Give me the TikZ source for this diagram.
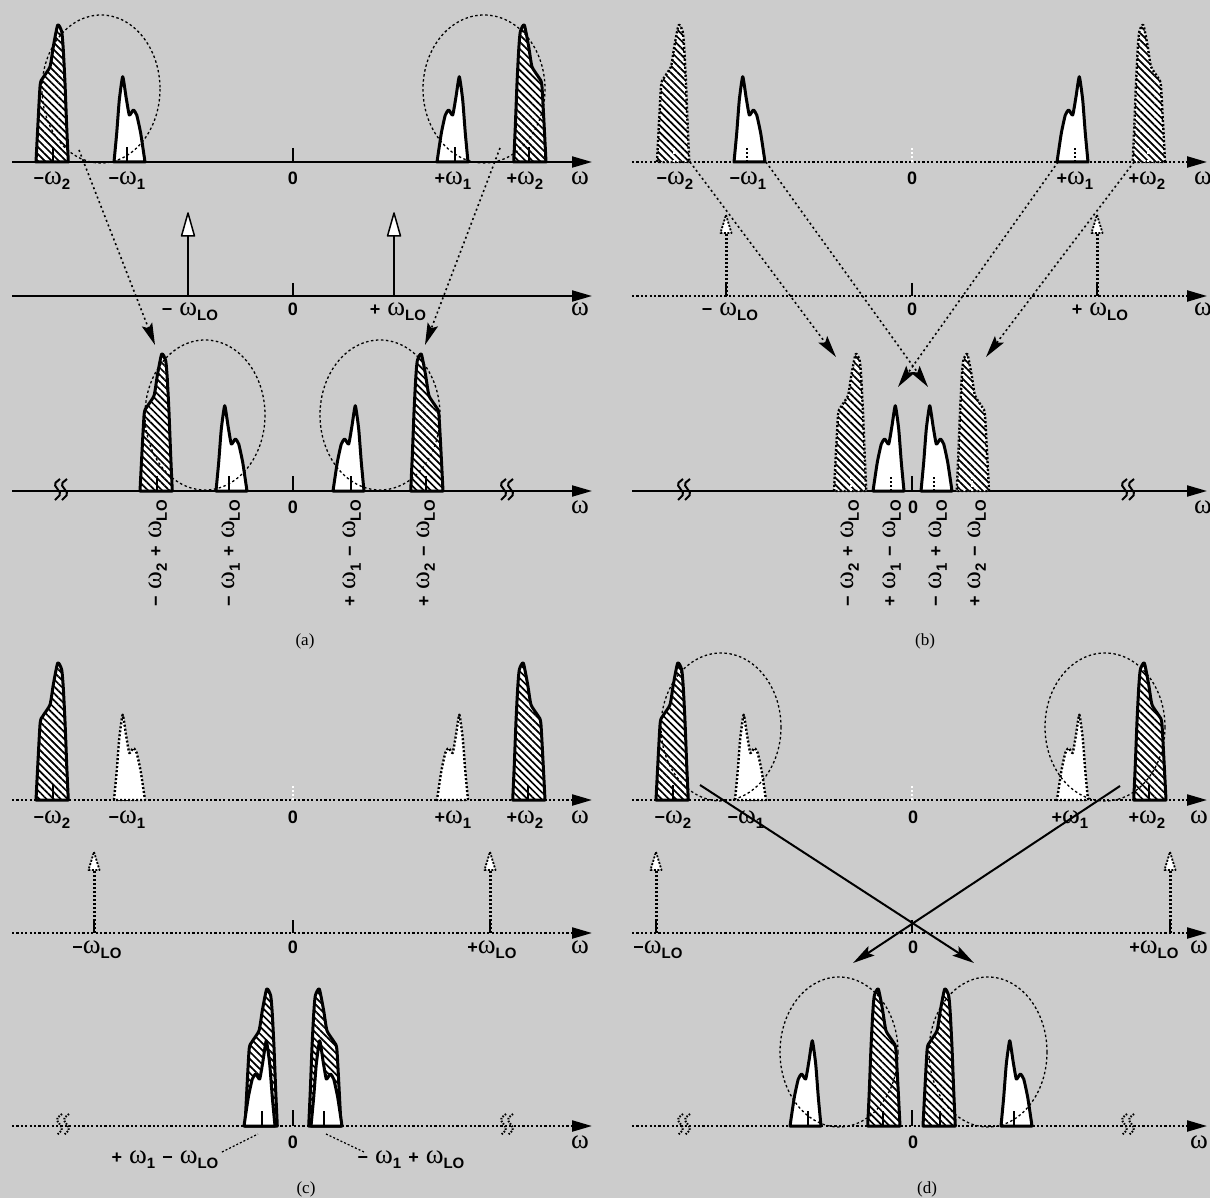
\documentclass[tikz,border=0pt]{standalone}
\usepackage{fontspec}
\setmainfont{Liberation Serif}
\setsansfont{Liberation Sans}
\newfontfamily\omfont{Liberation Serif}
\usetikzlibrary{arrows.meta,patterns.meta}
\definecolor{bgc}{RGB}{204,204,204}
\newcommand\om{{\omfont\mdseries\fontsize{27}{27}\selectfont ω}}
\newcommand\sbs[1]{\raisebox{-5pt}{\fontsize{15}{15}\selectfont #1}}
\newcommand\gap{\hspace{7pt}}
% band outlines, relative to the band centre on the axis (y downwards)
\newcommand\shA{plot[smooth,tension=0.35] coordinates {(-17,0) (-13,-75) (-10.3,-83.7) (-3,-95.3) (0.3,-115.3) (4.7,-137) (8.7,-130.3) (10.3,-112) (12,-78.7) (13.7,-35.3) (15.3,0)} -- cycle}
\newcommand\shAm{plot[smooth,tension=0.35] coordinates {(17,0) (13,-75) (10.3,-83.7) (3,-95.3) (-0.3,-115.3) (-4.7,-137) (-8.7,-130.3) (-10.3,-112) (-12,-78.7) (-13.7,-35.3) (-15.3,0)} -- cycle}
\newcommand\shB{plot[smooth,tension=0.3] coordinates {(-13,0) (-10.3,-28.7) (-7.7,-62) (-4.3,-85.3) (-1,-65.3) (2.3,-47) (6.3,-52) (9.7,-47) (13.7,-28.7) (18,0)} -- cycle}
\newcommand\shBm{plot[smooth,tension=0.3] coordinates {(13,0) (10.3,-28.7) (7.7,-62) (4.3,-85.3) (1,-65.3) (-2.3,-47) (-6.3,-52) (-9.7,-47) (-13.7,-28.7) (-18,0)} -- cycle}
% #1 shape, #2 x, #3 y, #4 fill style, #5 outline style, #6 tick style
\newcommand\band[6]{\begin{scope}[shift={(#2,#3)}]
  \fill[#4] \csname sh#1\endcsname;
  \draw[#5] \csname sh#1\endcsname;
  \draw[#6] (0,0) -- (0,-15);
\end{scope}}
\newcommand\loS[3]{%
  \draw[line width=2.6pt] (#1,#2) -- (#1,#3+22);
  \draw[line width=1.5pt, fill=white, line join=round] (#1,#3) -- (#1+6.5,#3+23) -- (#1-6.5,#3+23) -- cycle;}
\newcommand\loD[3]{%
  \draw[line width=3pt, dash pattern=on 2pt off 2pt] (#1,#2) -- (#1,#3+18);
  \draw[line width=1.5pt] (#1,#2) -- (#1,#2-12);
  \draw[line width=1.8pt, dash pattern=on 2pt off 1.5pt, fill=white, line join=round] (#1,#3) -- (#1+5.5,#3+18) -- (#1-5.5,#3+18) -- cycle;}
\newcommand\brk[3]{\foreach \dx in {0,7} {\draw[#3] (#1+\dx+3,#2-12) -- (#1+\dx-3,#2-7) -- (#1+\dx+4,#2+3) -- (#1+\dx-2,#2+9);}}
\begin{document}
\begin{tikzpicture}[x=1pt,y=-1pt,
 lbl/.style={font=\sffamily\bfseries\fontsize{18}{18}\selectfont, anchor=base, inner sep=0pt},
 rlbl/.style={font=\sffamily\bfseries\fontsize{18}{18}\selectfont, rotate=90, anchor=east, inner sep=0pt},
 captxt/.style={font=\fontsize{17}{17}\selectfont, inner sep=0pt},
 axS/.style={line width=2pt, -{Triangle[length=20pt,width=11pt]}},
 axD/.style={line width=2.2pt, dash pattern=on 2.2pt off 2.2pt, -{Triangle[length=20pt,width=11pt]}},
 sb/.style={line width=3pt, line join=round},
 db/.style={line width=2.4pt, dash pattern=on 2pt off 2pt, line join=round},
 hatch/.style={preaction={fill=white}, pattern={Lines[angle=-45,distance=5pt,line width=1.7pt]}},
 wf/.style={fill=white},
 tkS/.style={line width=1.3pt},
 tkK/.style={line width=1.3pt, dash pattern=on 2pt off 2pt},
 tkD/.style={line width=1.3pt, white, dash pattern=on 2pt off 2pt},
 ell/.style={line width=1.3pt, dash pattern=on 2.5pt off 2.5pt},
 darr/.style={line width=1.6pt, dash pattern=on 2pt off 3pt, -{Stealth[length=22pt,width=11pt,inset=4pt]}},
 sarr/.style={line width=2pt, -{Stealth[length=22pt,width=11pt,inset=4pt]}},
 lead/.style={line width=1.2pt, dash pattern=on 2pt off 2pt},
 brkS/.style={line width=2pt, rounded corners=2pt},
 brkD/.style={line width=2pt, dash pattern=on 1.5pt off 1.5pt, rounded corners=2pt},
]
\fill[bgc] (0,0) rectangle (1210,1198);
\useasboundingbox (0,0) rectangle (1210,1198);

%%%%%%%%%%%%%%%% (a)
\draw[axS] (12,162) -- (592,162);
\draw[tkS] (293,148) -- (293,162);
\band{A}{53}{162}{hatch}{sb}{tkS}
\band{B}{127}{162}{wf}{sb}{tkS}
\band{Bm}{455}{162}{wf}{sb}{tkS}
\band{Am}{529}{162}{hatch}{sb}{tkS}
\node[lbl] (a1) at (52,185) {−\om\sbs{2}};
\node[lbl] (a2) at (127,185) {−\om\sbs{1}};
\node[lbl] (a3) at (293,185) {0};
\node[lbl] (a4) at (453,185) {+\om\sbs{1}};
\node[lbl] (a5) at (525,185) {+\om\sbs{2}};
\node[lbl] (a6) at (580,185) {\om};

\draw[axS] (12,296) -- (592,296);
\draw[tkS] (293,283) -- (293,296);
\loS{188}{296}{213}
\loS{394}{296}{213}
\node[lbl] (a7) at (190,316) {−\gap\om\sbs{LO}};
\node[lbl] (a8) at (293,316) {0};
\node[lbl] (a9) at (398,316) {+\gap\om\sbs{LO}};
\node[lbl] (a10) at (580,316) {\om};

\draw[axS] (12,491) -- (592,491);
\brk{57}{491}{brkS}
\brk{503}{491}{brkS}
\draw[tkS] (293,476) -- (293,491);
\band{A}{157}{491}{hatch}{sb}{tkS}
\band{B}{229}{491}{wf}{sb}{tkS}
\band{Bm}{351}{491}{wf}{sb}{tkS}
\band{Am}{426}{491}{hatch}{sb}{tkS}
\node[lbl] (a11) at (293,513) {0};
\node[lbl] (a12) at (580,513) {\om};
\node[rlbl] (a13) at (158,500) {−\gap\om\sbs{2}\gap+\gap\om\sbs{LO}};
\node[rlbl] (a14) at (231,500) {−\gap\om\sbs{1}\gap+\gap\om\sbs{LO}};
\node[rlbl] (a15) at (352,500) {+\gap\om\sbs{1}\gap−\gap\om\sbs{LO}};
\node[rlbl] (a16) at (426,500) {+\gap\om\sbs{2}\gap−\gap\om\sbs{LO}};

\draw[ell] (101,89) ellipse [x radius=59, y radius=74];
\draw[ell] (484,89) ellipse [x radius=61, y radius=74];
\draw[ell] (205,415) ellipse [x radius=60, y radius=75];
\draw[ell] (380,415) ellipse [x radius=60, y radius=75];
\coordinate (as1) at (79,150); \coordinate (ae1) at (155,345);
\coordinate (as2) at (500,148); \coordinate (ae2) at (425,345);
\draw[darr] (as1) -- (ae1);
\draw[darr] (as2) -- (ae2);
\node[captxt] (capa) at (305,641) {(a)};

%%%%%%%%%%%%%%%% (b)
\draw[axD] (632,162) -- (1207,162);
\draw[tkD] (912,148) -- (912,162);
\band{A}{674}{162}{hatch}{db}{tkD}
\band{B}{747}{162}{wf}{sb}{tkK}
\band{Bm}{1075}{162}{wf}{sb}{tkK}
\band{Am}{1148}{162}{hatch}{db}{tkD}
\node[lbl] (b1) at (675,185) {−\om\sbs{2}};
\node[lbl] (b2) at (748,185) {−\om\sbs{1}};
\node[lbl] (b3) at (912,185) {0};
\node[lbl] (b4) at (1075,185) {+\om\sbs{1}};
\node[lbl] (b5) at (1147,185) {+\om\sbs{2}};
\node[lbl] (b6) at (1203,185) {\om};

\draw[axD] (632,296) -- (1207,296);
\draw[tkS] (912,283) -- (912,296);
\loD{726}{296}{215}
\loD{1097}{296}{215}
\node[lbl] (b7) at (730,316) {−\gap\om\sbs{LO}};
\node[lbl] (b8) at (912,316) {0};
\node[lbl] (b9) at (1100,316) {+\gap\om\sbs{LO}};
\node[lbl] (b10) at (1203,316) {\om};

\draw[axS] (632,491) -- (1207,491);
\brk{680}{491}{brkS}
\brk{1124}{491}{brkS}
\draw[tkS] (912,476) -- (912,491);
\band{A}{851}{491}{hatch}{db}{tkD}
\band{Bm}{891}{491}{wf}{sb}{tkK}
\band{B}{934}{491}{wf}{sb}{tkK}
\band{Am}{972}{491}{hatch}{db}{tkD}
\node[lbl] (b11) at (913,513) {0};
\node[lbl] (b12) at (1203,513) {\om};
\node[rlbl] (b13) at (850,500) {−\gap\om\sbs{2}\gap+\gap\om\sbs{LO}};
\node[rlbl] (b14) at (892,500) {+\gap\om\sbs{1}\gap−\gap\om\sbs{LO}};
\node[rlbl] (b15) at (938,500) {−\gap\om\sbs{1}\gap+\gap\om\sbs{LO}};
\node[rlbl] (b16) at (977,500) {+\gap\om\sbs{2}\gap−\gap\om\sbs{LO}};

\coordinate (bs1) at (690,162); \coordinate (be1) at (836,357);
\coordinate (bs2) at (766,162); \coordinate (be2) at (928,387);
\coordinate (bs3) at (1058,162); \coordinate (be3) at (898,387);
\coordinate (bs4) at (1134,162); \coordinate (be4) at (986,357);
\draw[darr] (bs1) -- (be1);
\draw[darr] (bs2) -- (be2);
\draw[darr] (bs3) -- (be3);
\draw[darr] (bs4) -- (be4);
\node[captxt] (capb) at (925,641) {(b)};

%%%%%%%%%%%%%%%% (c)
\draw[axD] (12,800) -- (592,800);
\draw[tkD] (293,786) -- (293,800);
\band{A}{53}{800}{hatch}{sb}{tkS}
\band{B}{127}{800}{wf}{db}{tkD}
\band{Bm}{455}{800}{wf}{db}{tkD}
\band{Am}{528}{800}{hatch}{sb}{tkS}
\node[lbl] (c1) at (52,823) {−\om\sbs{2}};
\node[lbl] (c2) at (127,823) {−\om\sbs{1}};
\node[lbl] (c3) at (293,823) {0};
\node[lbl] (c4) at (453,823) {+\om\sbs{1}};
\node[lbl] (c5) at (525,823) {+\om\sbs{2}};
\node[lbl] (c6) at (580,823) {\om};

\draw[axD] (12,933) -- (592,933);
\draw[tkS] (293,920) -- (293,933);
\loD{94}{933}{852}
\loD{490}{933}{852}
\node[lbl] (c7) at (97,953) {−\om\sbs{LO}};
\node[lbl] (c8) at (293,953) {0};
\node[lbl] (c9) at (492,953) {+\om\sbs{LO}};
\node[lbl] (c10) at (580,953) {\om};

\draw[axD] (12,1126) -- (592,1126);
\brk{59}{1126}{brkD}
\brk{503}{1126}{brkD}
\draw[tkS] (293,1110) -- (293,1126);
\band{A}{262}{1126}{hatch}{sb}{draw=none}
\band{Bm}{262}{1126}{wf}{sb}{tkS}
\band{Am}{324}{1126}{hatch}{sb}{draw=none}
\band{B}{324}{1126}{wf}{sb}{tkS}
\node[lbl] (c11) at (293,1148) {0};
\node[lbl] (c12) at (580,1148) {\om};
\node[lbl] (c13) at (165,1163) {+\gap\om\sbs{1}\gap−\gap\om\sbs{LO}};
\node[lbl] (c14) at (411,1163) {−\gap\om\sbs{1}\gap+\gap\om\sbs{LO}};
\coordinate (cl1) at (222,1152); \coordinate (cl2) at (258,1134);
\coordinate (cl3) at (326,1134); \coordinate (cl4) at (364,1152);
\draw[lead] (cl1) -- (cl2);
\draw[lead] (cl3) -- (cl4);
\node[captxt] (capc) at (306,1189) {(c)};

%%%%%%%%%%%%%%%% (d)
\draw[axD] (632,800) -- (1207,800);
\draw[tkD] (912,786) -- (912,800);
\band{A}{673}{800}{hatch}{sb}{tkS}
\band{B}{748}{800}{wf}{db}{tkD}
\band{Bm}{1075}{800}{wf}{db}{tkD}
\band{Am}{1149}{800}{hatch}{sb}{tkS}
\node[lbl] (d1) at (673,823) {−\om\sbs{2}};
\node[lbl] (d2) at (746,823) {−\om\sbs{1}};
\node[lbl] (d3) at (913,823) {0};
\node[lbl] (d4) at (1070,823) {+\om\sbs{1}};
\node[lbl] (d5) at (1147,823) {+\om\sbs{2}};
\node[lbl] (d6) at (1199,823) {\om};

\draw[axD] (632,933) -- (1207,933);
\draw[tkS] (912,920) -- (912,933);
\loD{656}{933}{852}
\loD{1170}{933}{852}
\node[lbl] (d7) at (658,953) {−\om\sbs{LO}};
\node[lbl] (d8) at (913,953) {0};
\node[lbl] (d9) at (1154,953) {+\om\sbs{LO}};
\node[lbl] (d10) at (1199,953) {\om};

\draw[axD] (632,1126) -- (1207,1126);
\brk{680}{1126}{brkD}
\brk{1124}{1126}{brkD}
\draw[tkS] (912,1110) -- (912,1126);
\band{Bm}{808}{1126}{wf}{sb}{tkS}
\band{Am}{883}{1126}{hatch}{sb}{tkS}
\band{A}{940}{1126}{hatch}{sb}{tkS}
\band{B}{1014}{1126}{wf}{sb}{tkS}
\node[lbl] (d11) at (913,1148) {0};
\node[lbl] (d12) at (1199,1148) {\om};

\draw[ell] (721,727) ellipse [x radius=60, y radius=74];
\draw[ell] (1105,727) ellipse [x radius=60, y radius=74];
\draw[ell] (839,1052) ellipse [x radius=59, y radius=75];
\draw[ell] (988,1052) ellipse [x radius=59, y radius=75];
\coordinate (ds1) at (700,785); \coordinate (de1) at (974,963);
\coordinate (ds2) at (1120,786); \coordinate (de2) at (853,963);
\draw[sarr] (ds1) -- (de1);
\draw[sarr] (ds2) -- (de2);
\node[captxt] (capd) at (927,1189) {(d)};
\end{tikzpicture}
\end{document}
